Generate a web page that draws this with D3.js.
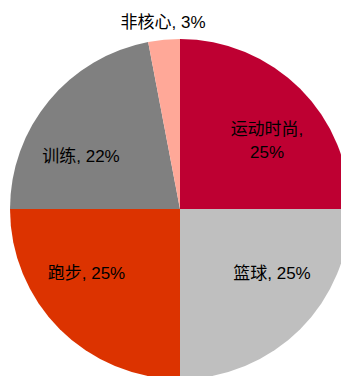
<!DOCTYPE html>
<html><head><meta charset="utf-8">
<script src="https://cdn.jsdelivr.net/npm/d3@7"></script>
<style>html,body{margin:0;padding:0;background:#fff;overflow:hidden}</style>
</head><body>
<svg id="c" width="341" height="376"></svg>
<script>
const categories = ["运动时尚", "篮球", "跑步", "训练", "非核心"];
const values = [25, 25, 25, 22, 3];
const colors = ["#BE0032", "#BFBFBF", "#DC3300", "#808080", "#FFA898"];

const svg = d3.select("#c");
const cx = 180, cy = 209, R = 170;
const g = svg.append("g").attr("transform", `translate(${cx},${cy})`);

const pie = d3.pie().sort(null).value(d => d)(values);
const arc = d3.arc().innerRadius(0).outerRadius(R);

g.selectAll("path").data(pie).enter().append("path")
  .attr("d", arc)
  .attr("fill", (d, i) => colors[i]);

// label placement offsets (relative to center), lines per label
const labelLayout = [
  {x: 87, y: -74, lines: [categories[0] + ",", values[0] + "%"]},
  {x: 92, y: 70, lines: [categories[1] + ", " + values[1] + "%"]},
  {x: -93.5, y: 70, lines: [categories[2] + ", " + values[2] + "%"]},
  {x: -99, y: -47, lines: [categories[3] + ", " + values[3] + "%"]},
  {x: -17, y: -181, lines: [categories[4] + ", " + values[4] + "%"]}
];

labelLayout.forEach(l => {
  const t = g.append("text")
    .attr("text-anchor", "middle")
    .attr("font-family", "Arial, 'Liberation Sans', 'Noto Sans CJK SC', sans-serif")
    .attr("font-size", 17)
    .attr("fill", "#000");
  l.lines.forEach((s, j) => {
    t.append("tspan").attr("x", l.x).attr("y", l.y + j * 23).text(s);
  });
});
</script>
</body></html>
